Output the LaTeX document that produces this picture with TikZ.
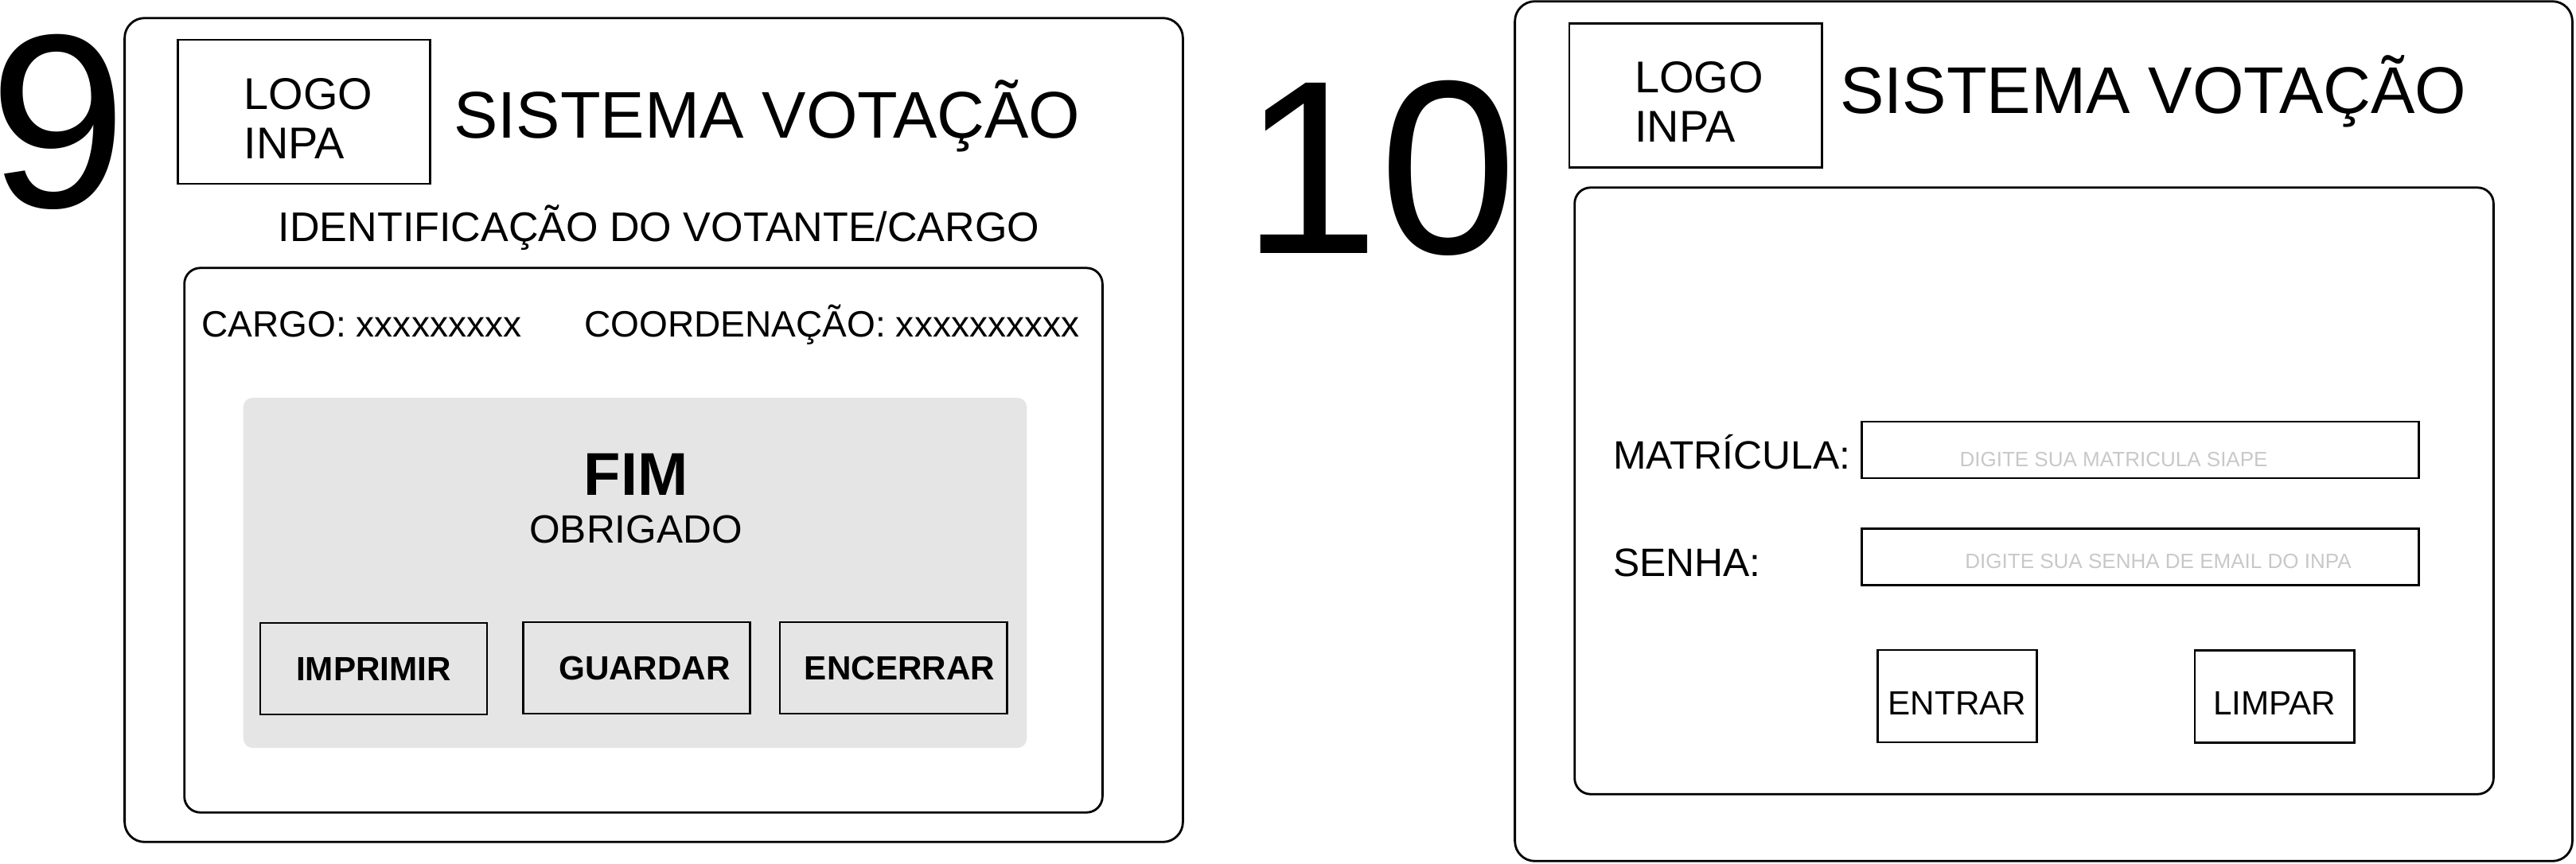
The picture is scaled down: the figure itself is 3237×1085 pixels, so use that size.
\documentclass[tikz,border=0pt]{standalone}
\usepackage{fontspec}
\setmainfont{Liberation Sans}
\usetikzlibrary{positioning}
\definecolor{panelgray}{RGB}{229,229,229}
\definecolor{hintgray}{RGB}{200,200,200}
\tikzset{
	every path/.style={line width=0.8pt},
	screen/.style={
		draw,
		rectangle,
		rounded corners=0.25cm,
		inner sep=0pt,
	},
	frame/.style={
		draw,
		rectangle,
		rounded corners=0.2cm,
		inner sep=0pt,
	},
	logobox/.style={
		draw,
		rectangle,
		inner sep=0pt,
		minimum width=3.17cm,
		minimum height=1.81cm,
	},
	logotxt/.style={
		align=left,
		inner sep=0pt,
		font=\fontsize{15.9}{17.6}\selectfont,
	},
	numero/.style={
		anchor=base,
		inner sep=0pt,
		font=\fontsize{88.5}{100}\selectfont,
	},
	systitle/.style={
		anchor=base west,
		inner sep=0pt,
		font=\fontsize{23.6}{28}\selectfont,
	},
	txt/.style={
		anchor=base west,
		inner sep=0pt,
		font=\fontsize{13.1}{15}\selectfont,
	},
	btn/.style={
		draw,
		rectangle,
		inner sep=0pt,
		minimum width=2.85cm,
		minimum height=1.15cm,
		font=\bfseries\fontsize{12}{14}\selectfont,
	},
	loginbtn/.style={
		draw,
		rectangle,
		inner sep=0pt,
		minimum width=2.0cm,
		minimum height=1.16cm,
		text height=0.46cm,
		text depth=0pt,
		font=\fontsize{12}{14}\selectfont,
	},
	field/.style={
		draw,
		rectangle,
		inner sep=0pt,
		minimum width=6.99cm,
		minimum height=0.71cm,
	},
	hint/.style={
		anchor=base,
		inner sep=0pt,
		text=hintgray,
		font=\fontsize{7.4}{9}\selectfont,
	},
}

\begin{document}
\begin{tikzpicture}[x=0.01cm,y=-0.01cm]
	\useasboundingbox (0,0) rectangle (3237,1085);

	% tela 9 - fim da votacao
	\node[numero] (num9) at (73.5,260) {9};
	\node[screen,minimum width=13.29cm,minimum height=10.35cm] (tela9) at (821.5,540.5) {};
	\node[logobox] (logo9) at (382,140.5) {};
	\node[logotxt] (logotxt9) at (387.5,149) {LOGO\\INPA};
	\node[systitle] (sis9) at (569,173) {SISTEMA VOTAÇÃO};
	\node[anchor=base,inner sep=0pt,font=\fontsize{14.8}{17}\selectfont] (ident) at (828,303) {IDENTIFICAÇÃO DO VOTANTE/CARGO};

	\node[frame,minimum width=11.53cm,minimum height=6.84cm] (quadro9) at (808.5,679) {};
	\node[txt] (cargo) at (252,423) {CARGO: xxxxxxxxx};
	\node[txt] (coord) at (733,423) {COORDENAÇÃO: xxxxxxxxxx};

	\node[rectangle,fill=panelgray,rounded corners=0.12cm,minimum width=9.84cm,minimum height=4.4cm] (fimbox) at (798,720) {};
	\node[anchor=base,inner sep=0pt,font=\bfseries\fontsize{21.6}{25}\selectfont] (fim) at (799,622) {FIM};
	\node[anchor=base,inner sep=0pt,font=\fontsize{14.1}{17}\selectfont] (obrigado) at (799,682) {OBRIGADO};

	\node[btn] (imprimir) at (469.5,840.5) {IMPRIMIR};
	\node[btn] (guardar) at (800,839.5) {\hspace*{0.2cm}GUARDAR};
	\node[btn] (encerrar) at (1122.5,839.5) {\hspace*{0.16cm}ENCERRAR};

	% tela 10 - login
	\node[numero] (num10) at (1734,318) {10};
	\node[screen,minimum width=13.28cm,minimum height=10.8cm] (tela10) at (2568,542) {};
	\node[logobox] (logo10) at (2130.5,120) {};
	\node[logotxt] (logotxt10) at (2135,128) {LOGO\\INPA};
	\node[systitle] (sis10) at (2311,143) {SISTEMA VOTAÇÃO};

	\node[frame,minimum width=11.54cm,minimum height=7.62cm] (quadro10) at (2556,617) {};
	\node[txt,font=\fontsize{14.15}{16}\selectfont] (matr) at (2026,589) {MATRÍCULA:};
	\node[txt,font=\fontsize{14.15}{16}\selectfont] (senha) at (2026,724) {SENHA:};
	\node[field] (cmatr) at (2689.5,565.5) {};
	\node[field] (csenha) at (2689.5,700) {};
	\node[hint] (hmatr) at (2656,586) {DIGITE SUA MATRICULA SIAPE};
	\node[hint] (hsenha) at (2712,714) {DIGITE SUA SENHA DE EMAIL DO INPA};

	\node[loginbtn] (entrar) at (2459.5,875) {ENTRAR};
	\node[loginbtn] (limpar) at (2858,875.5) {LIMPAR};

\end{tikzpicture}
\end{document}
